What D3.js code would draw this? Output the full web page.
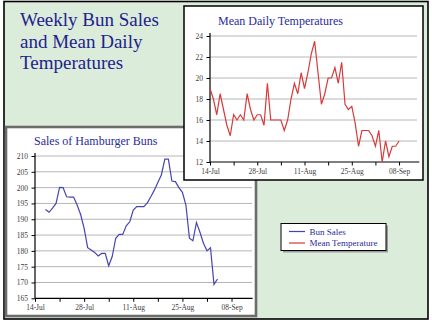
<!DOCTYPE html>
<html>
<head>
<meta charset="utf-8">
<script src="https://cdn.jsdelivr.net/npm/d3@7"></script>
<style>
  html, body { margin: 0; padding: 0; background: #ffffff; }
  svg { display: block; }
</style>
</head>
<body>
<svg id="chart" width="432" height="324"></svg>
<script>
// ---- data ----
const titleLines = ["Weekly Bun Sales", "and Mean Daily", "Temperatures"];

// daily mean temperatures, 14 Jul – 08 Sep
const tempStart = [2005, 6, 14];
const tempValues = [
  19, 18, 16.5, 18.5, 17, 15.5, 14.5, 16.5, 16, 16.5, 16, 18.5, 17, 16, 16.5, 16.5, 15.5, 19.5,
  16, 16, 16, 16, 15, 16, 18, 19.5, 18.5, 20.5, 19, 20.5, 22.3, 23.5, 20.5, 17.5, 18.5, 20,
  20, 21, 19.5, 21.5, 17.5, 17, 17.3, 15.7, 13.5, 15, 15, 15, 14.5,
  13.5, 15, 12, 14, 12.5, 13.5, 13.5, 14
];

// weekly bun sales (rolling), 17 Jul – 04 Sep
const bunStart = [2005, 6, 17];
const bunValues = [
  193.1, 192.2, 193.5, 195, 200.1, 200, 197.1, 197, 197, 194.5, 191.5, 187.1, 181, 180.3,
  179.5, 178.4, 179.2, 179.2, 175.3, 178.2, 184, 185.2, 185.2, 187.9, 189.2, 192.9, 194,
  194, 194, 195.2, 197.1, 199.2, 201.6, 204, 209, 209, 202.1, 201.9, 200, 198.5, 194.5,
  184, 183.2, 189, 185.9, 182.4, 180, 181, 169.4, 171.1
];

const axisStart = [2005, 6, 14];
const axisEnd = [2005, 8, 14];
const tempTicks = [12, 14, 16, 18, 20, 22, 24];
const bunTicks = [165, 170, 175, 180, 185, 190, 195, 200, 205, 210];

const legendLabels = ["Bun Sales", "Mean Temperature"];
const seriesColors = ["#4444b4", "#d83a3a"];

// ---- helpers ----
const SERIF = '"Liberation Serif", "Times New Roman", "DejaVu Serif", serif';
const day = (s, i) => new Date(Date.UTC(s[0], s[1], s[2] + i));
const dUTC = s => new Date(Date.UTC(s[0], s[1], s[2]));
const fmt = d3.utcFormat("%d-%b");
const temps = tempValues.map((v, i) => ({ date: day(tempStart, i), value: v }));
const buns = bunValues.map((v, i) => ({ date: day(bunStart, i), value: v }));

const svg = d3.select("#chart");

// page background with frame
svg.append("rect").attr("x", 4).attr("y", 1.5).attr("width", 424).attr("height", 317.5)
  .attr("fill", "#dcecdb").attr("stroke", "#000").attr("stroke-width", 1.6);

// main title
svg.append("g").selectAll("text").data(titleLines).join("text")
  .attr("x", 20).attr("y", (d, i) => 26 + i * 21.5)
  .attr("font-family", SERIF)
  .attr("font-size", 19).attr("fill", "#22228c").text(d => d);

// generic panel drawer
function panel(opts) {
  const g = svg.append("g");
  g.append("rect").attr("x", opts.box[0]).attr("y", opts.box[1])
    .attr("width", opts.box[2]).attr("height", opts.box[3])
    .attr("fill", "#fff").attr("stroke", opts.stroke).attr("stroke-width", opts.strokeWidth);

  const x = d3.scaleUtc().domain([dUTC(axisStart), dUTC(axisEnd)]).range(opts.xr);
  const y = d3.scaleLinear().domain(opts.yd).range(opts.yr);

  // gridlines
  g.append("g").selectAll("line").data(opts.ticks.slice(1)).join("line")
    .attr("x1", opts.xr[0]).attr("x2", opts.gridEnd)
    .attr("y1", d => y(d)).attr("y2", d => y(d))
    .attr("stroke", "#b6b6b6").attr("stroke-width", 1);

  // y axis
  const ya = g.append("g").attr("transform", `translate(${opts.xr[0]},0)`)
    .call(d3.axisLeft(y).tickValues(opts.ticks).tickSize(3.5).tickPadding(3.5));
  ya.select(".domain").remove();
  ya.append("line").attr("x1", 0).attr("x2", 0)
    .attr("y1", opts.yr[0]).attr("y2", opts.yr[1] - 3).attr("stroke", "#000").attr("stroke-width", 1.2);

  // x axis: weekly ticks from the first day, labels every other week
  const weekly = d3.utcDay.range(dUTC(axisStart), dUTC(axisEnd), 7);
  const xa = g.append("g").attr("transform", `translate(0,${opts.yr[0]})`)
    .call(d3.axisBottom(x).tickValues(weekly).tickSize(3.5).tickPadding(3)
      .tickFormat((d, i) => i % 2 === 0 ? fmt(d) : ""));
  xa.select(".domain").attr("d", `M${opts.xr[0]},0H${opts.xr[1]}`).attr("stroke-width", 1.2);

  [ya, xa].forEach(a => {
    a.attr("font-family", SERIF);
    a.selectAll(".tick line").attr("stroke", "#000");
    a.selectAll("text").attr("font-family", SERIF)
      .attr("font-size", 7.5).attr("fill", "#404040");
  });

  // series line
  g.append("path").datum(opts.data)
    .attr("fill", "none").attr("stroke", opts.color).attr("stroke-width", 1.2)
    .attr("d", d3.line().x(d => x(d.date)).y(d => y(d.value)));

  // panel title
  g.append("text").attr("x", opts.title[1]).attr("y", opts.title[2])
    .attr("font-family", SERIF)
    .attr("font-size", 12).attr("fill", "#2a2a9a").text(opts.title[0]);
}

// hamburger bun panel (drawn first, sits underneath)
panel({
  box: [6, 127, 250, 189], stroke: "#6c6c6c", strokeWidth: 2.6,
  xr: [35, 252.6], yr: [298.3, 156], yd: [165, 210], ticks: bunTicks, gridEnd: 252,
  data: buns, color: seriesColors[0], title: ["Sales of Hamburger Buns", 34, 145]
});

// temperature panel
panel({
  box: [184, 6, 239, 174], stroke: "#000", strokeWidth: 1.5,
  xr: [210, 419.3], yr: [162, 36], yd: [12, 24], ticks: tempTicks, gridEnd: 417,
  data: temps, color: seriesColors[1], title: ["Mean Daily Temperatures", 218, 25]
});

// legend
const lg = svg.append("g");
lg.append("rect").attr("x", 283).attr("y", 225.5).attr("width", 105).attr("height", 27)
  .attr("fill", "#9a9a9a");
lg.append("rect").attr("x", 281).attr("y", 223.5).attr("width", 105).attr("height", 27)
  .attr("fill", "#fff").attr("stroke", "#000").attr("stroke-width", 1);
const items = lg.selectAll("g.item").data(legendLabels).join("g").attr("class", "item")
  .attr("transform", (d, i) => `translate(0,${231.5 + i * 11.5})`);
items.append("line").attr("x1", 289).attr("x2", 305)
  .attr("stroke", (d, i) => seriesColors[i]).attr("stroke-width", 1.2);
items.append("text").attr("x", 309.5).attr("y", 3).attr("font-family", SERIF).attr("font-size", 9)
  .attr("fill", "#2a2a9a").text(d => d);
</script>
</body>
</html>
